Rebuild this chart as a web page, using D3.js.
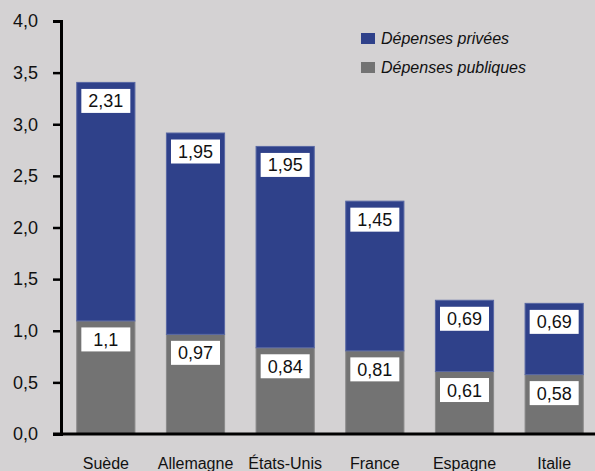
<!DOCTYPE html>
<html>
<head>
<meta charset="utf-8">
<script src="https://cdn.jsdelivr.net/npm/d3@7"></script>
<style>
    body {margin:0; background:#d4d2d3;}
    svg {display:block;}
</style>
</head>
<body>
<svg></svg>
<script>
// data
var countries = ["Suède", "Allemagne", "États-Unis", "France", "Espagne", "Italie"]
var publicSpending = [1.1, 0.97, 0.84, 0.81, 0.61, 0.58]
var privateSpending = [2.31, 1.95, 1.95, 1.45, 0.69, 0.69]
var seriesNames = ["Dépenses privées", "Dépenses publiques"]
var yTicks = [0, 0.5, 1, 1.5, 2, 2.5, 3, 3.5, 4]

var mainCode = function(){
    //fine tune these
    var screen = {width:595, height:471}
    var plot = {left:61, top:21, bottom:434, right:599}
    var colors = {priv:"#2f418a", privEdge:"#5867a3", pub:"#737373", pubEdge:"#8a8a8a", bg:"#d4d2d3"}

    var frLocale = d3.formatLocale({decimal:",", thousands:" ", grouping:[3], currency:["","€"]})
    var fmt1 = frLocale.format(".1f")
    var fmtLabel = function(v){ return String(v).replace(".", ",") }

    var svg = d3.select("svg")
        .attr("width", screen.width)
        .attr("height", screen.height)

    svg.append("rect")
        .attr("width", screen.width)
        .attr("height", screen.height)
        .attr("fill", colors.bg)

    var xScale = d3.scaleBand()
        .domain(countries)
        .range([plot.left, plot.right])
        .paddingInner(0.34)
        .paddingOuter(0.17)

    var yScale = d3.scaleLinear()
        .domain([0, 4])
        .range([plot.bottom, plot.top])

    //stack the two series
    var rows = countries.map(function(c, i){
        return {country:c, pub:publicSpending[i], priv:privateSpending[i]}
    })

    var bars = svg.append("g").attr("id", "bars")
        .selectAll("g")
        .data(rows)
        .enter()
        .append("g")

    bars.append("rect")
        .attr("x", function(d){ return xScale(d.country) + 0.5 })
        .attr("width", xScale.bandwidth() - 1)
        .attr("y", function(d){ return yScale(d.pub) + 0.5 })
        .attr("height", function(d){ return yScale(0) - yScale(d.pub) })
        .attr("fill", colors.pub)
        .attr("stroke", colors.pubEdge)
        .attr("stroke-width", 1)

    bars.append("rect")
        .attr("x", function(d){ return xScale(d.country) + 0.5 })
        .attr("width", xScale.bandwidth() - 1)
        .attr("y", function(d){ return yScale(d.pub + d.priv) + 0.5 })
        .attr("height", function(d){ return yScale(d.pub) - yScale(d.pub + d.priv) })
        .attr("fill", colors.priv)
        .attr("stroke", colors.privEdge)
        .attr("stroke-width", 1)

    //white value boxes
    var boxW = 49, boxH = 24, boxGap = 7
    var addBox = function(topFn, valFn){
        var g = bars.append("g")
            .attr("transform", function(d){
                var cx = xScale(d.country) + xScale.bandwidth() / 2
                return "translate(" + (cx - boxW / 2) + "," + (topFn(d) + boxGap) + ")"
            })
        g.append("rect")
            .attr("width", boxW)
            .attr("height", boxH)
            .attr("fill", "#ffffff")
        g.append("text")
            .attr("x", boxW / 2)
            .attr("y", 18.5)
            .attr("text-anchor", "middle")
            .attr("font-family", "'Liberation Sans Narrow', 'Liberation Sans', Arial, sans-serif")
            .attr("font-size", 18)
            .attr("fill", "#111")
            .text(function(d){ return fmtLabel(valFn(d)) })
    }
    addBox(function(d){ return yScale(d.pub + d.priv) }, function(d){ return d.priv })
    addBox(function(d){ return yScale(d.pub) }, function(d){ return d.pub })

    //axes
    var yAxis = d3.axisLeft(yScale)
        .tickValues(yTicks)
        .tickSize(8)
        .tickPadding(15)
        .tickFormat(fmt1)

    var yG = svg.append("g")
        .attr("id", "yAxis")
        .attr("transform", "translate(" + plot.left + ",0)")
        .call(yAxis)
    yG.select(".domain").attr("stroke", "#000").attr("stroke-width", 3)
    yG.selectAll(".tick line").attr("stroke", "#000").attr("stroke-width", 2.5)
    yG.selectAll(".tick text")
        .attr("font-family", "'Liberation Sans', Arial, sans-serif")
        .attr("font-size", 18)
        .attr("fill", "#111")

    var xAxis = d3.axisBottom(xScale)
        .tickSize(0)
        .tickPadding(24)

    var xG = svg.append("g")
        .attr("id", "xAxis")
        .attr("transform", "translate(0," + plot.bottom + ")")
        .call(xAxis)
    xG.select(".domain").remove()
    xG.append("line")
        .attr("x1", plot.left - 8)
        .attr("x2", screen.width)
        .attr("stroke", "#000")
        .attr("stroke-width", 3)
    xG.selectAll(".tick text")
        .attr("font-family", "'Liberation Sans', Arial, sans-serif")
        .attr("font-size", 16)
        .attr("fill", "#111")

    //legend
    var legendColors = [colors.priv, colors.pub]
    var lg = svg.append("g").attr("id", "legend")
        .attr("transform", "translate(361,33)")
        .selectAll("g")
        .data(seriesNames)
        .enter()
        .append("g")
        .attr("transform", function(d, i){ return "translate(0," + (i * 29) + ")" })

    lg.append("rect")
        .attr("width", 14)
        .attr("height", 11)
        .attr("fill", function(d, i){ return legendColors[i] })

    lg.append("text")
        .attr("x", 20)
        .attr("y", 11)
        .attr("font-family", "'Liberation Sans', Arial, sans-serif")
        .attr("font-style", "italic")
        .attr("font-size", 16)
        .attr("fill", "#111")
        .text(function(d){ return d })
}

mainCode()
</script>
</body>
</html>
